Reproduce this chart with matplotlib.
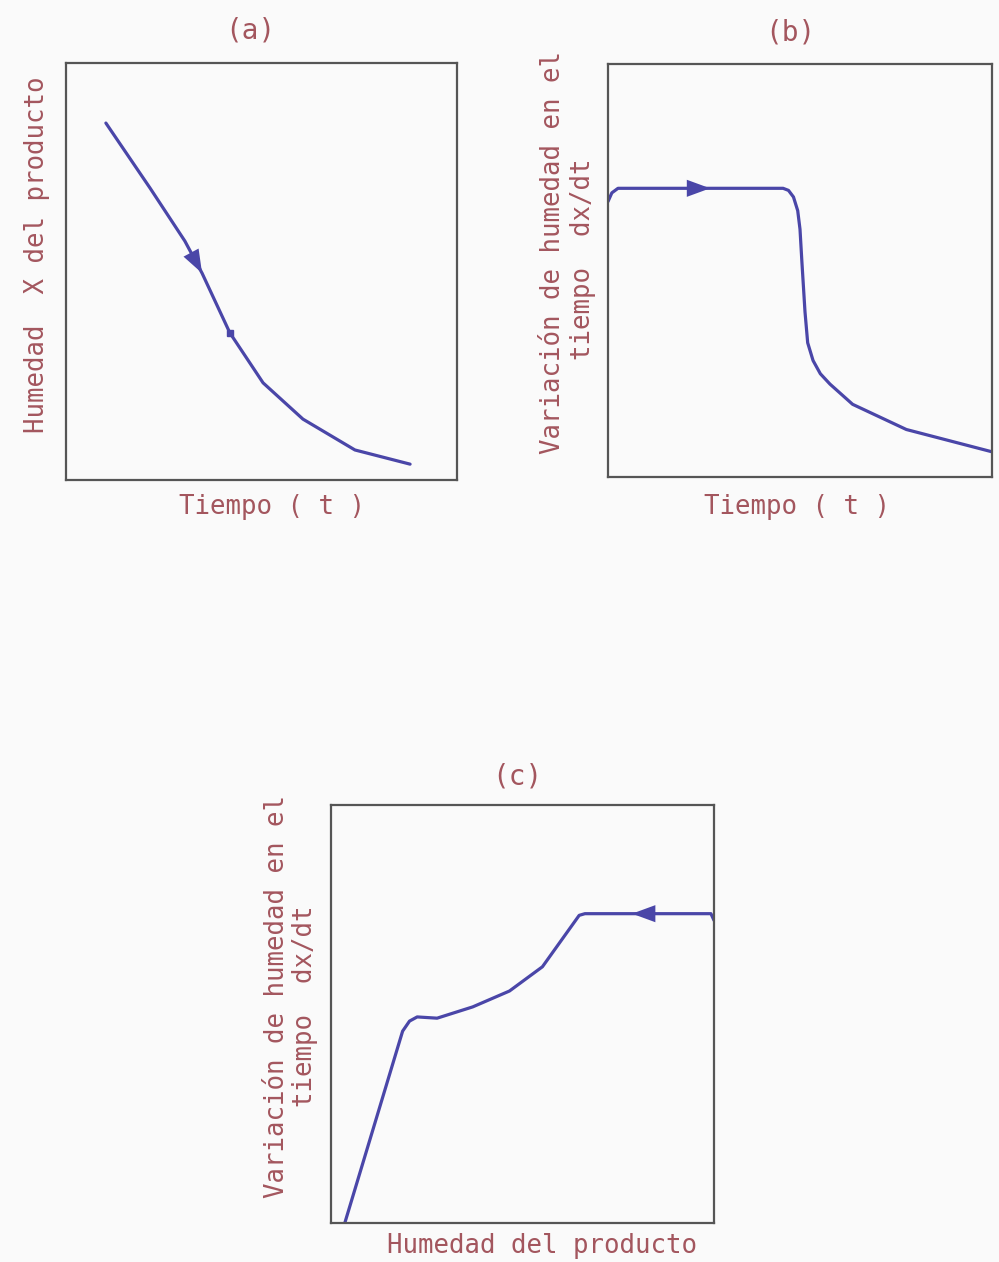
import matplotlib
matplotlib.use("Agg")
import matplotlib.pyplot as plt

W, H = 999, 1262

# (a) moisture content vs time
a_t = [10.2, 21.5, 30.4, 34.8, 41.9, 50.4, 60.6, 73.9, 88.0]
a_x = [85.6, 70.0, 57.3, 49.6, 35.3, 23.3, 14.6, 7.2, 3.8]

# (b) drying rate vs time
b_t = [0.0, 1.0, 2.6, 45.6, 47.0, 48.3, 49.4, 50.0, 50.5, 51.3, 52.0, 53.4,
       55.3, 57.8, 63.7, 77.7, 100.0]
b_r = [66.7, 68.8, 69.9, 69.9, 69.4, 67.8, 64.5, 60.0, 52.0, 40.0, 32.5, 28.2,
       25.0, 22.5, 17.6, 11.5, 6.1]

# (c) drying rate vs moisture content
c_x = [3.6, 18.7, 20.5, 22.5, 27.7, 37.0, 46.6, 55.2, 64.8, 66.3, 99.2, 100.0]
c_r = [0.0, 45.9, 48.3, 49.3, 49.0, 51.7, 55.5, 61.3, 73.6, 74.0, 74.0, 72.4]

titles = ["(a)", "(b)", "(c)"]
xlabels = ["Tiempo ( t )", "Tiempo ( t )", "Humedad del producto"]
ylabel_a = "Humedad  X del producto"
ylabel_rate = ["Variación de humedad en el", "tiempo  dx/dt"]

LINE = "#4a46a8"
TEXT = "#a3565e"
FRAME = "#555555"
BG = "#fafafa"
FONT = "DejaVu Sans Mono"
FS = 18.5

fig = plt.figure(figsize=(W / 100, H / 100), dpi=100, facecolor=BG)


def px_axes(x0, y0, x1, y1):
    ax = fig.add_axes([x0 / W, 1 - y1 / H, (x1 - x0) / W, (y1 - y0) / H])
    ax.set_xlim(0, 100)
    ax.set_ylim(0, 100)
    ax.set_xticks([])
    ax.set_yticks([])
    ax.set_facecolor(BG)
    for s in ax.spines.values():
        s.set_color(FRAME)
        s.set_linewidth(1.6)
    return ax


def ftext(x, y, s, rot=0, size=FS):
    fig.text(x / W, 1 - y / H, s, rotation=rot, ha="center", va="center",
             color=TEXT, fontsize=size, family=FONT)


def arrow(ax, tail, tip):
    ax.annotate("", xy=tip, xytext=tail,
                arrowprops=dict(arrowstyle="-|>,head_length=0.6,head_width=0.22",
                                color=LINE, lw=0, mutation_scale=28,
                                shrinkA=0, shrinkB=0))


# panel (a)
ax_a = px_axes(66, 63, 457, 480)
ax_a.plot(a_t, a_x, color=LINE, lw=2.3, solid_capstyle="round",
          solid_joinstyle="round")
arrow(ax_a, (a_t[2], a_x[2]), (a_t[3], a_x[3]))
ax_a.plot([a_t[4]], [a_x[4]], marker="s", ms=4, color=LINE)
ftext(250, 30, titles[0], size=20)
ftext(272, 507, xlabels[0])
ftext(37, 255, ylabel_a, rot=90)

# panel (b)
ax_b = px_axes(608, 64, 992, 477)
ax_b.plot(b_t, b_r, color=LINE, lw=2.3, solid_capstyle="round",
          solid_joinstyle="round")
arrow(ax_b, (20.8, b_r[3]), (26.6, b_r[3]))
ftext(790, 32, titles[1], size=20)
ftext(797, 507, xlabels[1])
ftext(553, 252, ylabel_rate[0], rot=90)
ftext(583, 259, ylabel_rate[1], rot=90)

# panel (c)
ax_c = px_axes(331, 805, 714, 1223)
ax_c.plot(c_x, c_r, color=LINE, lw=2.3, solid_capstyle="round",
          solid_joinstyle="round")
arrow(ax_c, (84.1, c_r[9]), (78.6, c_r[9]))
ftext(517, 777, titles[2], size=20)
ftext(542, 1246, xlabels[2])
ftext(277, 996, ylabel_rate[0], rot=90)
ftext(305, 1006, ylabel_rate[1], rot=90)

fig.savefig("out.png", dpi=100, facecolor=BG)
